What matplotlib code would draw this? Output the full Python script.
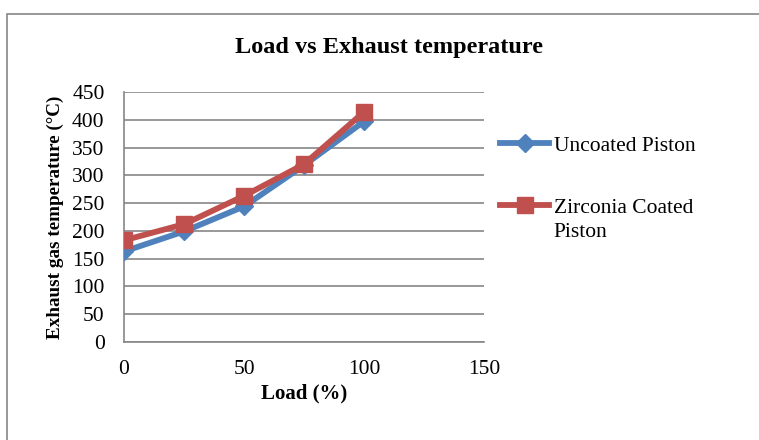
import matplotlib.pyplot as plt
from matplotlib.patches import Rectangle

# data
load = [0, 25, 50, 75, 100]
uncoated = [163, 199, 244, 318, 397]
zirconia = [183, 212, 263, 320, 414]
yticks = [0, 50, 100, 150, 200, 250, 300, 350, 400, 450]
xticks = [0, 50, 100, 150]

plt.rcParams['font.family'] = ['Liberation Serif', 'DejaVu Serif']

fig = plt.figure(figsize=(7.59, 4.40), dpi=100)
ax = fig.add_axes([0.1634, 0.2227, 0.4743, 0.5683])

# outer chart border (runs off the right and bottom edges)
fig.patches.append(Rectangle((7/759, -0.1), 1.1, 1 - 14/440 + 0.1, transform=fig.transFigure,
                             fill=False, edgecolor='#868686', linewidth=1.2))

ax.plot(load, uncoated, color='#4F81BD', lw=4.2, marker='D', markersize=9,
        label='Uncoated Piston', zorder=3)
ax.plot(load, zirconia, color='#C0504D', lw=4.2, marker='s', markersize=12,
        label='Zirconia Coated', zorder=4)

ax.set_xlim(0, 150)
ax.set_ylim(0, 450)
ax.set_xticks(xticks)
ax.set_yticks(yticks)
ax.yaxis.grid(True, color='#868686', lw=1.2)
ax.set_axisbelow(True)
for s in ['top', 'right']:
    ax.spines[s].set_visible(False)
ax.spines['left'].set_color('#868686')
ax.spines['bottom'].set_color('#868686')
ax.spines['left'].set_linewidth(1.2)
ax.spines['bottom'].set_linewidth(1.2)
ax.tick_params(axis='y', length=0, pad=14, labelsize=15.5)
ax.tick_params(axis='x', length=0, pad=13, labelsize=15.5)

# chart title is centred on the whole chart area, not the plot area
fig.text(389/759, 1 - 47/440, 'Load vs Exhaust temperature', fontsize=17.5,
         fontweight='bold', ha='center', va='center')
ax.set_xlabel('Load (%)', fontsize=15, fontweight='bold', labelpad=3)
ax.set_ylabel('Exhaust gas temperature (\u00b0C)', fontsize=13.8, fontweight='bold', labelpad=6)

leg = ax.legend(loc='upper left', bbox_to_anchor=(1.02, 0.86), frameon=False, fontsize=15.5,
                handlelength=2.3, handletextpad=0.2, labelspacing=1.95, borderaxespad=0)

# second line of the Zirconia legend label, placed under the first line
fig.canvas.draw()
bb = leg.get_texts()[1].get_window_extent().transformed(fig.transFigure.inverted())
fig.text(bb.x0, bb.y0 - 0.012, 'Piston', fontsize=15.5, ha='left', va='top')

fig.savefig('out.png', dpi=100)
